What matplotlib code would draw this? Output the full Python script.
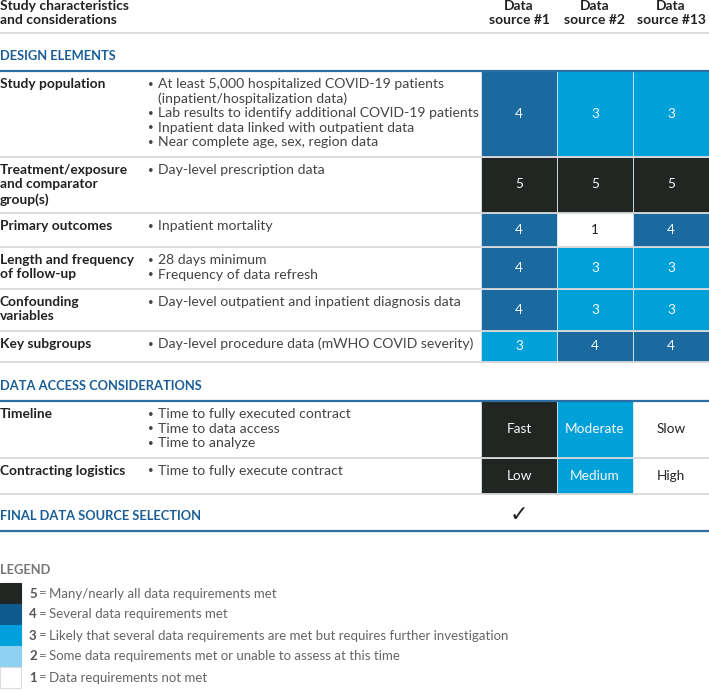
import matplotlib.pyplot as plt
from matplotlib.patches import Rectangle

# Tabla de fuentes de datos

plt.rcParams['font.family'] = ['Lato', 'DejaVu Sans']

sources = ["Data\nsource #1", "Data\nsource #2", "Data\nsource #13"]

designRows = ["Study population",
              "Treatment/exposure\nand comparator\ngroup(s)",
              "Primary outcomes",
              "Length and frequency\nof follow-up",
              "Confounding\nvariables",
              "Key subgroups"]
designDetails = [["At least 5,000 hospitalized COVID-19 patients\n(inpatient/hospitalization data)",
                  "Lab results to identify additional COVID-19 patients",
                  "Inpatient data linked with outpatient data",
                  "Near complete age, sex, region data"],
                 ["Day-level prescription data"],
                 ["Inpatient mortality"],
                 ["28 days minimum", "Frequency of data refresh"],
                 ["Day-level outpatient and inpatient diagnosis data"],
                 ["Day-level procedure data (mWHO COVID severity)"]]
scoresDS1 = [4, 5, 4, 4, 4, 3]
scoresDS2 = [3, 5, 1, 3, 3, 4]
scoresDS13 = [3, 5, 4, 3, 3, 4]

accessRows = ["Timeline", "Contracting logistics"]
accessDetails = [["Time to fully executed contract", "Time to data access", "Time to analyze"],
                 ["Time to fully execute contract"]]
accessLabels = [["Fast", "Moderate", "Slow"], ["Low", "Medium", "High"]]
accessGrades = [[5, 3, 1], [5, 3, 1]]
selected = [True, False, False]

legendScores = [5, 4, 3, 2, 1]
legendText = ["Many/nearly all data requirements met",
              "Several data requirements met",
              "Likely that several data requirements are met but requires further investigation",
              "Some data requirements met or unable to assess at this time",
              "Data requirements not met"]

colores = {5: "#222623", 4: "#1a6aa0", 3: "#00a0d9", 2: "#8ed1f0", 1: "#ffffff"}
coloresLeyenda = {5: "#222623", 4: "#0e5a8f", 3: "#00a0dc", 2: "#8ed1f0", 1: "#ffffff"}
azul = "#1b5e96"
gris = "#d9d9d9"

# layout (pixeles)
W, H = 709, 690
colX = [481, 557, 633]
colW = 76
designH = [86, 56, 34, 42, 42, 31]
accessH = [57, 36]
lineH = 14.6
fsTitulo = 9.3
fsHeader = 10.0
fsLabel = 9.9
fsTexto = 10.1
fsCelda = 9.8
fsLeyenda = 9.5

fig = plt.figure(figsize=(7.09, 6.90), dpi=100)
ax = fig.add_axes([0, 0, 1, 1])
ax.set_xlim(0, W)
ax.set_ylim(H, 0)
ax.axis("off")

# encabezado
ax.text(0, 13, "Study characteristics\nand considerations", fontsize=fsHeader, fontweight="bold",
        color="#222222", va="center", ha="left", linespacing=1.25)
for j in range(3):
    ax.text(colX[j] + colW / 2, 13, sources[j], fontsize=fsHeader, fontweight="bold",
            color="#222222", va="center", ha="center", linespacing=1.25)
ax.plot([0, W], [33, 33], color=gris, lw=1.3)


def seccion(y, titulo):
    ax.text(0, y - 14, titulo, fontsize=fsTitulo, fontweight="bold", color=azul, va="center")
    ax.plot([0, W], [y, y], color="#2d6fa5", lw=1.6)


def fila(y, h, label, detalles, valores, textos):
    ax.text(0, y + 7.5, label, fontsize=fsLabel, fontweight="bold", color="#222222",
            va="top", ha="left", linespacing=1.25)
    yy = y + 13.5
    for d in detalles:
        ax.text(151, yy, "•", fontsize=7, color="#444444", va="center", ha="center")
        for linea in d.split("\n"):
            ax.text(158, yy, linea, fontsize=fsTexto, color="#444444", va="center")
            yy += lineH
    for j in range(3):
        v = valores[j]
        ax.add_patch(Rectangle((colX[j], y), colW, h, facecolor=colores[v],
                               edgecolor="#d5e6f0", lw=0.6))
        ax.text(colX[j] + colW / 2, y + h / 2, textos[j], fontsize=fsCelda,
                color="#f4f8fb" if v > 1 else "#222222", ha="center", va="center")
    ax.plot([0, W], [y + h, y + h], color=gris, lw=1.3)


y = 70.5
seccion(y, "DESIGN ELEMENTS")
for i in range(len(designRows)):
    vals = [scoresDS1[i], scoresDS2[i], scoresDS13[i]]
    fila(y, designH[i], designRows[i], designDetails[i], vals, [str(v) for v in vals])
    y += designH[i]

y = 400.5
seccion(y, "DATA ACCESS CONSIDERATIONS")
for i in range(len(accessRows)):
    fila(y, accessH[i], accessRows[i], accessDetails[i], accessGrades[i], accessLabels[i])
    y += accessH[i]

y = 530.5
seccion(y, "FINAL DATA SOURCE SELECTION")
for j in range(3):
    if selected[j]:
        ax.text(colX[j] + colW / 2, y - 15, "✓", fontsize=16, color="#222222",
                ha="center", va="center", family="DejaVu Sans")

# leyenda
ax.text(0, 570, "LEGEND", fontsize=fsTitulo, fontweight="bold", color="#777777", va="center")
ly = 583
for k in range(len(legendScores)):
    s = legendScores[k]
    ax.add_patch(Rectangle((0, ly), 21, 21, facecolor=coloresLeyenda[s],
                           edgecolor="#dddddd" if s == 1 else coloresLeyenda[s], lw=0.8))
    ax.text(29, ly + 10.5, str(s), fontsize=fsLeyenda, fontweight="bold", color="#555555", va="center")
    ax.text(39, ly + 10.5, "=", fontsize=fsLeyenda, color="#777777", va="center")
    ax.text(49, ly + 10.5, legendText[k], fontsize=fsLeyenda, color="#666666", va="center")
    ly += 21

plt.savefig("out.png", dpi=100)
